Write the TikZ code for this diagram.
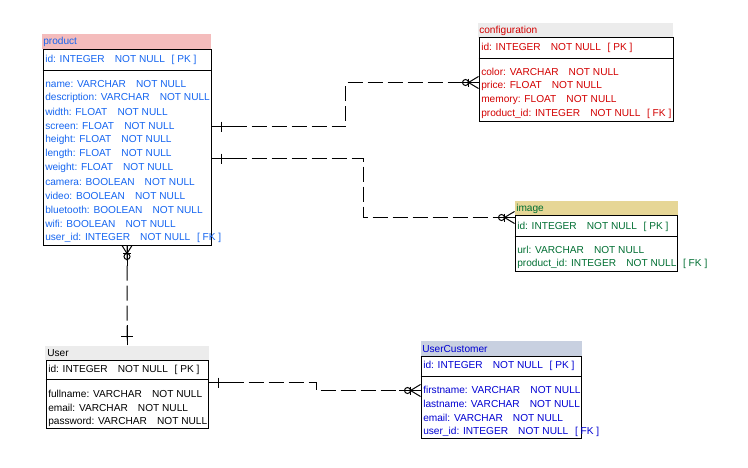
\documentclass[tikz,border=0pt]{standalone}
\usepackage{fontspec}
\setmainfont{Liberation Sans}
\usetikzlibrary{calc}

\definecolor{prodhdr}{RGB}{244,188,188}
\definecolor{grayhdr}{RGB}{236,236,236}
\definecolor{imghdr}{RGB}{230,214,150}
\definecolor{custhdr}{RGB}{200,208,224}
\definecolor{prodtext}{RGB}{20,100,240}
\definecolor{cfgtext}{RGB}{210,0,0}
\definecolor{imgtext}{RGB}{0,110,50}
\definecolor{custtext}{RGB}{0,0,210}

\newcommand{\colgap}{\quad}
\newcommand{\keygap}{\hspace{5pt}}

% crow's foot with circle (zero or many), line coming from the left
\newcommand{\crowleft}[1]{%
  \begin{scope}[shift={(#1)}]
    \draw[bar] (0,-6) -- (-10,0) -- (0,6);
    \draw[bar] (-10,-4) -- (-10,4);
    \draw[bar] (-13,0) circle[radius=3];
  \end{scope}}
% same, line coming from below
\newcommand{\crowdown}[1]{%
  \begin{scope}[shift={(#1)}]
    \draw[bar] (-5,0) -- (0,8) -- (5,0);
    \draw[bar] (-4,8) -- (4,8);
    \draw[bar] (0,11) circle[radius=3];
  \end{scope}}

\tikzset{
  tbl/.style={draw, line width=0.75pt, inner sep=0pt},
  hdr/.style={draw=none, inner sep=0pt, anchor=south west},
  row/.style={anchor=west, inner sep=0pt, font=\fontsize{7.6}{9}\selectfont},
  rel/.style={line width=0.75pt, dash pattern=on 11.25pt off 3.75pt},
  bar/.style={line width=0.75pt},
}

\begin{document}
\begin{tikzpicture}[x=0.75pt, y=-0.75pt]
  \useasboundingbox (0,0) rectangle (748,467);

  % product
  \node[hdr, fill=prodhdr, minimum width=169*0.75pt, minimum height=15*0.75pt] (producthd) at (42,49) {};
  \node[row, text=prodtext] (producttitle) at (43,42) {product};
  \node[tbl, minimum width=168*0.75pt, minimum height=195*0.75pt] (product) at (127,147.5) {};
  \draw[bar] ($(product.north west)+(0,21)$) -- ($(product.north east)+(0,21)$);
  \node[row, text=prodtext] (product0) at (45,60) {id: INTEGER\colgap NOT NULL\keygap[ PK ]};
  \foreach \txt [count=\i] in {name: VARCHAR\colgap NOT NULL, description: VARCHAR\colgap NOT NULL,
      width: FLOAT\colgap NOT NULL, screen: FLOAT\colgap NOT NULL, height: FLOAT\colgap NOT NULL,
      length: FLOAT\colgap NOT NULL, weight: FLOAT\colgap NOT NULL, camera: BOOLEAN\colgap NOT NULL,
      video: BOOLEAN\colgap NOT NULL, bluetooth: BOOLEAN\colgap NOT NULL, wifi: BOOLEAN\colgap NOT NULL,
      user\_id: INTEGER\colgap NOT NULL\keygap[ FK ]}
    \node[row, text=prodtext] (product\i) at (45,70+14*\i) {\txt};

  % configuration
  \node[hdr, fill=grayhdr, minimum width=195*0.75pt, minimum height=15*0.75pt] (confighd) at (478,38) {};
  \node[row, text=cfgtext] (configtitle) at (479,31) {configuration};
  \node[tbl, minimum width=194*0.75pt, minimum height=83*0.75pt] (config) at (576,79.5) {};
  \draw[bar] ($(config.north west)+(0,21)$) -- ($(config.north east)+(0,21)$);
  \node[row, text=cfgtext] (config0) at (481,48) {id: INTEGER\colgap NOT NULL\keygap[ PK ]};
  \foreach \txt [count=\i] in {color: VARCHAR\colgap NOT NULL, price: FLOAT\colgap NOT NULL,
      memory: FLOAT\colgap NOT NULL, product\_id: INTEGER\colgap NOT NULL\keygap[ FK ]}
    \node[row, text=cfgtext] (config\i) at (481,58+14*\i) {\txt};

  % image
  \node[hdr, fill=imghdr, minimum width=163*0.75pt, minimum height=14*0.75pt] (imagehd) at (515,215) {};
  \node[row, text=imgtext] (imagetitle) at (516,209) {image};
  \node[tbl, minimum width=162*0.75pt, minimum height=56*0.75pt] (image) at (596,243) {};
  \draw[bar] ($(image.north west)+(0,22)$) -- ($(image.north east)+(0,22)$);
  \node[row, text=imgtext] (image0) at (517,227) {id: INTEGER\colgap NOT NULL\keygap[ PK ]};
  \foreach \txt [count=\i] in {url: VARCHAR\colgap NOT NULL, product\_id: INTEGER\colgap NOT NULL\keygap[ FK ]}
    \node[row, text=imgtext] (image\i) at (517,236+14*\i) {\txt};

  % User
  \node[hdr, fill=grayhdr, minimum width=164*0.75pt, minimum height=14*0.75pt] (userhd) at (45,360) {};
  \node[row] (usertitle) at (47,353) {User};
  \node[tbl, minimum width=162*0.75pt, minimum height=68*0.75pt] (user) at (127,394) {};
  \draw[bar] ($(user.north west)+(0,20)$) -- ($(user.north east)+(0,20)$);
  \node[row] (user0) at (48,370) {id: INTEGER\colgap NOT NULL\keygap[ PK ]};
  \foreach \txt [count=\i] in {fullname: VARCHAR\colgap NOT NULL, email: VARCHAR\colgap NOT NULL,
      password: VARCHAR\colgap NOT NULL}
    \node[row] (user\i) at (48,380+14*\i) {\txt};

  % UserCustomer
  \node[hdr, fill=custhdr, minimum width=161*0.75pt, minimum height=15*0.75pt] (customerhd) at (421,356) {};
  \node[row, text=custtext] (customertitle) at (422,349) {UserCustomer};
  \node[tbl, minimum width=160*0.75pt, minimum height=82*0.75pt] (customer) at (501,397) {};
  \draw[bar] ($(customer.north west)+(0,21)$) -- ($(customer.north east)+(0,21)$);
  \node[row, text=custtext] (customer0) at (423,366) {id: INTEGER\colgap NOT NULL\keygap[ PK ]};
  \foreach \txt [count=\i] in {firstname: VARCHAR\colgap NOT NULL, lastname: VARCHAR\colgap NOT NULL,
      email: VARCHAR\colgap NOT NULL, user\_id: INTEGER\colgap NOT NULL\keygap[ FK ]}
    \node[row, text=custtext] (customer\i) at (423,376+14*\i) {\txt};

  % relations
  \coordinate (pa) at ($(product.north east)+(0,77)$);
  \coordinate (ca) at ($(config.north west)+(0,45)$);
  \draw[rel] (pa) -- ++(134,0) |- (ca);
  \draw[bar] (pa) -- ++(30,0);
  \draw[bar] (ca) -- ++(-22,0);
  \draw[bar] ($(pa)+(10,-5)$) -- ++(0,10);
  \crowleft{ca}

  \coordinate (pb) at ($(product.north east)+(0,109)$);
  \coordinate (ib) at ($(image.north west)+(0,3)$);
  \draw[rel] (pb) -- ++(152,0) |- (ib);
  \draw[bar] (pb) -- ++(30,0);
  \draw[bar] (ib) -- ++(-22,0);
  \draw[bar] ($(pb)+(10,-5)$) -- ++(0,10);
  \crowleft{ib}

  \coordinate (pc) at (product.south);
  \coordinate (uc) at (userhd.north);
  \draw[rel] (pc) -- (uc);
  \draw[bar] (pc) -- ++(0,20);
  \draw[bar] (uc) -- ++(0,-20);
  \draw[bar] ($(uc)+(-6,-9)$) -- ++(12,0);
  \crowdown{pc}

  \coordinate (ud) at ($(user.north east)+(0,23)$);
  \coordinate (cd) at ($(customer.north west)+(0,35)$);
  \draw[rel] (ud) -- ++(108,0) |- (cd);
  \draw[bar] (ud) -- ++(30,0);
  \draw[bar] (cd) -- ++(-22,0);
  \draw[bar] ($(ud)+(10,-5)$) -- ++(0,10);
  \crowleft{cd}
\end{tikzpicture}
\end{document}
